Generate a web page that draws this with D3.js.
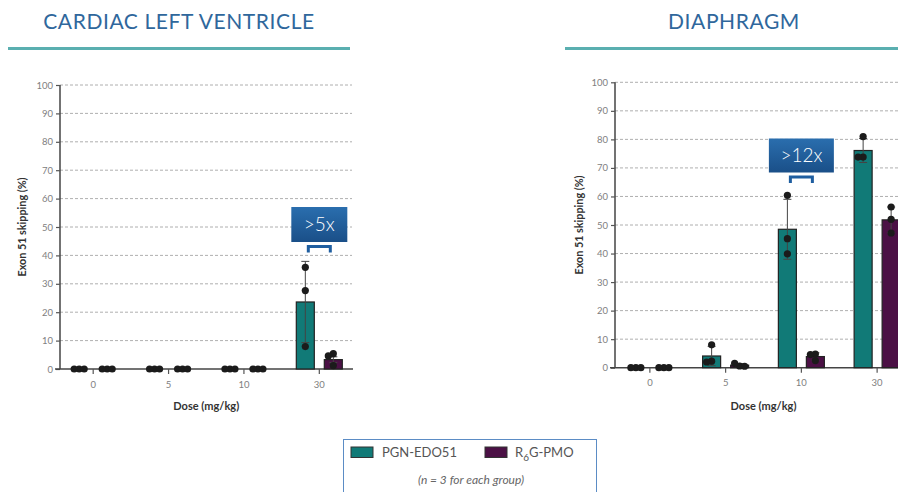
<!DOCTYPE html>
<html><head><meta charset="utf-8">
<script src="https://cdn.jsdelivr.net/npm/d3@7"></script>
<style>
html,body{margin:0;padding:0;background:#fff;}
svg{display:block;font-family:Lato,"Noto Sans",sans-serif;}
</style></head>
<body><svg id="c" width="898" height="492"></svg>
<script>
// ---------- data ----------
const doses = ["0", "5", "10", "30"];
const seriesNames = ["PGN-EDO51", "R6G-PMO"];
const yTicks = [0,10,20,30,40,50,60,70,80,90,100];

// Cardiac left ventricle
const cardiacPgnMean = [0, 0, 0, 23.6];
const cardiacPgnSd   = [0, 0, 0, 14.3];
const cardiacPgnPts  = [[0,0,0],[0,0,0],[0,0,0],[35.8,27.6,7.9]];
const cardiacR6gMean = [0, 0, 0, 3.3];
const cardiacR6gSd   = [0, 0, 0, 1.0];
const cardiacR6gPts  = [[0,0,0],[0,0,0],[0,0,0],[5.4,4.6,1.2]];

// Diaphragm
const diaPgnMean = [0, 4.1, 48.5, 76.1];
const diaPgnSd   = [0, 3.4, 10.5, 4.2];
const diaPgnPts  = [[0,0,0],[8.0,2.3,2.0],[60.4,45.2,39.9],[81.0,73.8,73.8]];
const diaR6gMean = [0, 0.9, 3.9, 51.8];
const diaR6gSd   = [0, 0.5, 1.3, 4.5];
const diaR6gPts  = [[0,0,0],[0.6,1.5,0.5],[4.8,4.6,2.5],[56.3,52.0,47.2]];

const titles = ["CARDIAC LEFT VENTRICLE", "DIAPHRAGM"];
const foldLabels = [">5x", ">12x"];
const foldDose = ["30", "10"];
const yLabel = "Exon 51 skipping (%)";
const xLabel = "Dose (mg/kg)";

// ---------- styling ----------
const colors = {"PGN-EDO51": "#117a77", "R6G-PMO": "#4b1045"};
const svg = d3.select("#c");

const panels = [
  {title: titles[0], titleX: 179, ruleX: [8, 350],
   xRange: [55.5, 357], axisX: 60, gridEnd: 352, yRange: [369, 85], ylabX: 22,
   pgn: {mean: cardiacPgnMean, sd: cardiacPgnSd, pts: cardiacPgnPts},
   r6g: {mean: cardiacR6gMean, sd: cardiacR6gSd, pts: cardiacR6gPts},
   fold: foldLabels[0], foldDose: foldDose[0], boxTop: 207, boxH: 35, boxW: 56},
  {title: titles[1], titleX: 734, ruleX: [565, 898],
   xRange: [612, 915], axisX: 615, gridEnd: 898, yRange: [367.7, 82.3], ylabX: 579,
   pgn: {mean: diaPgnMean, sd: diaPgnSd, pts: diaPgnPts},
   r6g: {mean: diaR6gMean, sd: diaR6gSd, pts: diaR6gPts},
   fold: foldLabels[1], foldDose: foldDose[1], boxTop: 138.5, boxH: 34, boxW: 65}
];

panels.forEach(p => {
  const g = svg.append("g");
  // title
  g.append("text").attr("x", p.titleX).attr("y", 29).attr("text-anchor", "middle")
    .attr("font-size", 21).attr("fill", "#2f679c").attr("letter-spacing", 0.6)
    .text(p.title);
  g.append("line").attr("x1", p.ruleX[0]).attr("x2", p.ruleX[1])
    .attr("y1", 48.5).attr("y2", 48.5).attr("stroke", "#5aafb0").attr("stroke-width", 3);

  const x = d3.scaleBand().domain(doses).range(p.xRange).paddingInner(0).paddingOuter(0);
  const bw = x.bandwidth();
  const xs = d3.scaleBand().domain(seriesNames).range([bw/2 - 23, bw/2 + 23])
    .paddingInner(10/28).paddingOuter(0);
  const y = d3.scaleLinear().domain([0, 100]).range(p.yRange);

  // gridlines
  g.append("g").selectAll("line").data(yTicks.filter(t => t > 0)).join("line")
    .attr("x1", p.axisX).attr("x2", p.gridEnd)
    .attr("y1", d => y(d)).attr("y2", d => y(d))
    .attr("stroke", "#9a9a9a").attr("stroke-width", 0.8).attr("stroke-dasharray", "3,2");

  // y axis
  const ya = g.append("g").attr("transform", `translate(${p.axisX},0)`)
    .call(d3.axisLeft(y).tickValues(yTicks).tickSize(4).tickPadding(3));
  ya.select(".domain").attr("stroke", "#444").attr("stroke-width", 1.5).attr("d", `M0,${y(0)}V${y(100)}`);
  ya.selectAll(".tick line").attr("stroke", "#555").attr("stroke-width", 1.2);
  ya.selectAll(".tick text").attr("fill", "#808080").attr("font-size", 9.5).attr("font-family", "Lato,sans-serif");

  // x axis
  const x0 = y(0);
  const xa = g.append("g").attr("transform", `translate(0,${x0})`)
    .call(d3.axisBottom(x).tickSize(5).tickPadding(7));
  xa.select(".domain").attr("stroke", "#444").attr("stroke-width", 1.5)
    .attr("d", `M${p.axisX - 5},0H${Math.min(p.gridEnd + 1, 898)}`);
  xa.selectAll(".tick line").attr("stroke", "#555").attr("stroke-width", 1.2);
  xa.selectAll(".tick text").attr("fill", "#808080").attr("font-size", 9.5).attr("font-family", "Lato,sans-serif");

  // axis labels
  g.append("text").attr("transform", `translate(${p.ylabX},${y(50)}) rotate(-90)`)
    .attr("text-anchor", "middle").attr("dy", "0.35em").attr("font-size", 10.8)
    .attr("font-weight", "bold").attr("fill", "#333").text(yLabel);
  const xmid = (x(doses[0]) + x(doses[3]) + bw) / 2;
  g.append("text").attr("x", xmid).attr("y", 410).attr("text-anchor", "middle")
    .attr("font-size", 11).attr("font-weight", "bold").attr("fill", "#333").text(xLabel);

  // bars + error bars + dots
  const series = [["PGN-EDO51", p.pgn], ["R6G-PMO", p.r6g]];
  series.forEach(([name, s]) => {
    doses.forEach((d, i) => {
      const cx = x(d) + xs(name) + xs.bandwidth() / 2;
      const bx = x(d) + xs(name);
      if (s.mean[i] > 0) {
        g.append("rect").attr("x", bx).attr("width", xs.bandwidth())
          .attr("y", y(s.mean[i])).attr("height", y(0) - y(s.mean[i]))
          .attr("fill", colors[name]).attr("stroke", "#222").attr("stroke-width", 1.2);
      }
      if (s.sd[i] > 0) {
        const lo = y(Math.max(0, s.mean[i] - s.sd[i])), hi = y(s.mean[i] + s.sd[i]);
        g.append("line").attr("x1", cx).attr("x2", cx).attr("y1", lo).attr("y2", hi)
          .attr("stroke", "#444").attr("stroke-width", 1);
        [lo, hi].forEach(yy => g.append("line").attr("x1", cx - 4).attr("x2", cx + 4)
          .attr("y1", yy).attr("y2", yy).attr("stroke", "#444").attr("stroke-width", 1));
      }
      // simple beeswarm
      const placed = [];
      s.pts[i].forEach(v => {
        const py = y(v);
        const cands = [0, -5, 5, -10, 10];
        let off = 0;
        for (const c of cands) {
          if (placed.every(q => Math.hypot(q[0] - c, q[1] - py) >= 5)) { off = c; break; }
        }
        placed.push([off, py]);
        g.append("circle").attr("cx", cx + off).attr("cy", py).attr("r", 3.6).attr("fill", "#1b1b1b");
      });
    });
  });

  // fold-change annotation
  const fi = doses.indexOf(p.foldDose);
  const c1 = x(p.foldDose) + xs("PGN-EDO51") + xs.bandwidth() / 2;
  const c2 = x(p.foldDose) + xs("R6G-PMO") + xs.bandwidth() / 2;
  const mid = (c1 + c2) / 2;
  const grad = svg.append("defs").append("linearGradient").attr("id", "gr" + fi)
    .attr("x1", 0).attr("x2", 0).attr("y1", 0).attr("y2", 1);
  grad.append("stop").attr("offset", 0).attr("stop-color", "#2a6eae");
  grad.append("stop").attr("offset", 1).attr("stop-color", "#1a4f88");
  g.append("rect").attr("x", mid - p.boxW / 2).attr("y", p.boxTop).attr("width", p.boxW)
    .attr("height", p.boxH).attr("fill", `url(#gr${fi})`);
  g.append("text").attr("x", mid).attr("y", p.boxTop + p.boxH / 2).attr("dy", "0.36em")
    .attr("text-anchor", "middle").attr("fill", "#fff").attr("font-size", 19)
    .attr("font-weight", 300).text(p.fold);
  const by = p.boxTop + p.boxH + 4.5;
  g.append("path").attr("d", `M${mid - 11},${by + 6}V${by}H${mid + 11}V${by + 6}`)
    .attr("fill", "none").attr("stroke", "#1f5ea0").attr("stroke-width", 3);
});

// legend
const lg = svg.append("g");
lg.append("rect").attr("x", 343.5).attr("y", 439.5).attr("width", 253).attr("height", 70)
  .attr("fill", "#fff").attr("stroke", "#5b8cc5").attr("stroke-width", 1);
lg.append("rect").attr("x", 351).attr("y", 447).attr("width", 22).attr("height", 10.5)
  .attr("fill", colors["PGN-EDO51"]).attr("stroke", "#333").attr("stroke-width", 1);
lg.append("text").attr("x", 382).attr("y", 457).attr("font-size", 13).attr("fill", "#555").text("PGN-EDO51");
lg.append("rect").attr("x", 485).attr("y", 447).attr("width", 22).attr("height", 10.5)
  .attr("fill", colors["R6G-PMO"]).attr("stroke", "#333").attr("stroke-width", 1);
const t2 = lg.append("text").attr("x", 515).attr("y", 457).attr("font-size", 13).attr("fill", "#555");
t2.append("tspan").text("R");
t2.append("tspan").attr("dy", 4).attr("font-size", 10).text("6");
t2.append("tspan").attr("dy", -4).text("G-PMO");
lg.append("text").attr("x", 471).attr("y", 484).attr("text-anchor", "middle").attr("font-size", 12)
  .attr("font-style", "italic").attr("fill", "#666").text("(n = 3 for each group)");
</script>
</body></html>
